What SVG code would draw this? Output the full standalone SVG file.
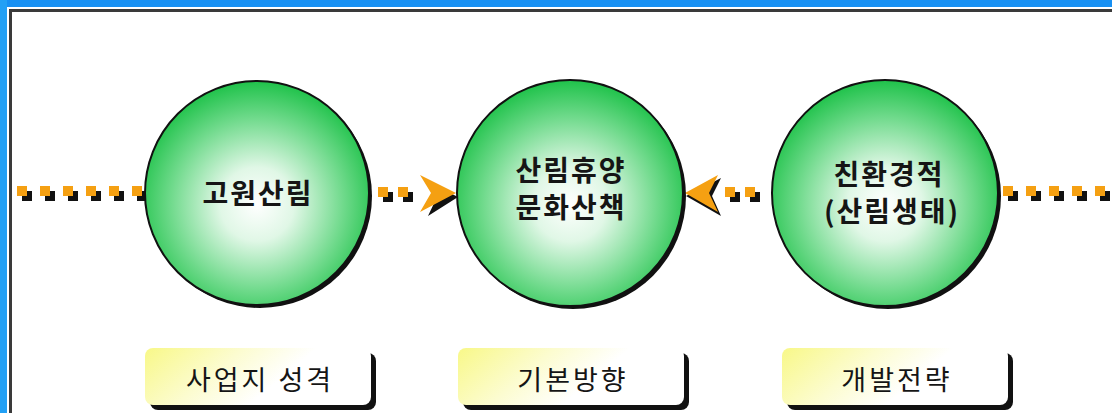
<svg xmlns="http://www.w3.org/2000/svg" width="1112" height="413" viewBox="0 0 1112 413">
<defs>
<radialGradient id="ball" cx="0.5" cy="0.55" r="0.55">
<stop offset="0" stop-color="#ffffff"/>
<stop offset="0.3" stop-color="#e0f7e6"/>
<stop offset="0.7" stop-color="#70da8c"/>
<stop offset="1" stop-color="#1fc24a"/>
</radialGradient>
<linearGradient id="tag" x1="0" y1="0" x2="1" y2="0.3">
<stop offset="0" stop-color="#f8f888"/>
<stop offset="0.4" stop-color="#fcfcd0"/>
<stop offset="0.7" stop-color="#ffffff"/>
</linearGradient>
<g id="sq">
<rect x="5" y="5" width="10" height="10" fill="#111"/>
<rect x="0" y="0" width="10" height="10" fill="#f5a012"/>
</g>
</defs>
<style>
.ct{font-family:"Noto Sans CJK KR","Noto Sans",sans-serif;font-size:28px;font-weight:700;fill:#151515;text-anchor:middle;letter-spacing:2px}
.lt{font-family:"Noto Sans CJK KR","Noto Sans",sans-serif;font-size:27px;font-weight:400;fill:#151515;text-anchor:middle;letter-spacing:3px}
.circ{fill:url(#ball);stroke:#111;stroke-width:2}
.shadow{fill:#111}
.box{fill:url(#tag)}
.arr{fill:#f5a012}
</style>
<rect x="0" y="0" width="1112" height="413" fill="#ffffff"/>
<rect x="0" y="0" width="1112" height="7" fill="#1790f3"/>
<rect x="0" y="0" width="7" height="413" fill="#22a0f5"/>
<rect x="9" y="9" width="1103" height="3" fill="#3a3a3a"/>
<rect x="9" y="9" width="3" height="404" fill="#3a3a3a"/>
<g id="connectors">
<use href="#sq" x="17" y="186"/>
<use href="#sq" x="40" y="186"/>
<use href="#sq" x="63" y="186"/>
<use href="#sq" x="86" y="186"/>
<use href="#sq" x="109" y="186"/>
<use href="#sq" x="132" y="186"/>
<use href="#sq" x="378" y="187"/>
<use href="#sq" x="398" y="187"/>
<polygon points="424,180 458,197 428,216 437,197" class="shadow"/>
<polygon class="arr" points="420,175 456,193 420,212 431,193"/>
<use href="#sq" x="725" y="187"/>
<use href="#sq" x="745" y="187"/>
<polygon points="686,196 721,178 712,196 721,216" class="shadow"/>
<polygon class="arr" points="685,193 718,175 709,193 718,212"/>
<use href="#sq" x="1003" y="186"/>
<use href="#sq" x="1026" y="186"/>
<use href="#sq" x="1049" y="186"/>
<use href="#sq" x="1072" y="186"/>
<use href="#sq" x="1095" y="186"/>
</g>
<g id="node-goweon">
<circle cx="260" cy="196" r="112" class="shadow"/>
<circle cx="257" cy="193" r="112" class="circ"/>
<text x="258" y="204" class="ct">고원산림</text>
</g>
<g id="node-sanrim">
<circle cx="573" cy="196" r="113" class="shadow"/>
<circle cx="570" cy="193" r="113" class="circ"/>
<text x="571" y="181" class="ct">산림휴양</text>
<text x="571" y="218" class="ct">문화산책</text>
</g>
<g id="node-chinhwan">
<circle cx="888" cy="196" r="113" class="shadow"/>
<circle cx="885" cy="193" r="113" class="circ"/>
<text x="889" y="185" class="ct">친환경적</text>
<text x="892" y="222" class="ct">(산림생태)</text>
</g>
<g id="label-saeopji">
<rect x="150" y="353" width="226" height="57" rx="8" class="shadow"/>
<rect x="145" y="348" width="226" height="57" rx="8" class="box"/>
<text x="260" y="390" class="lt">사업지 성격</text>
</g>
<g id="label-gibon">
<rect x="463" y="353" width="226" height="57" rx="8" class="shadow"/>
<rect x="458" y="348" width="226" height="57" rx="8" class="box"/>
<text x="573" y="390" class="lt">기본방향</text>
</g>
<g id="label-gaebal">
<rect x="787" y="353" width="226" height="57" rx="8" class="shadow"/>
<rect x="782" y="348" width="226" height="57" rx="8" class="box"/>
<text x="897" y="390" class="lt">개발전략</text>
</g>
</svg>
